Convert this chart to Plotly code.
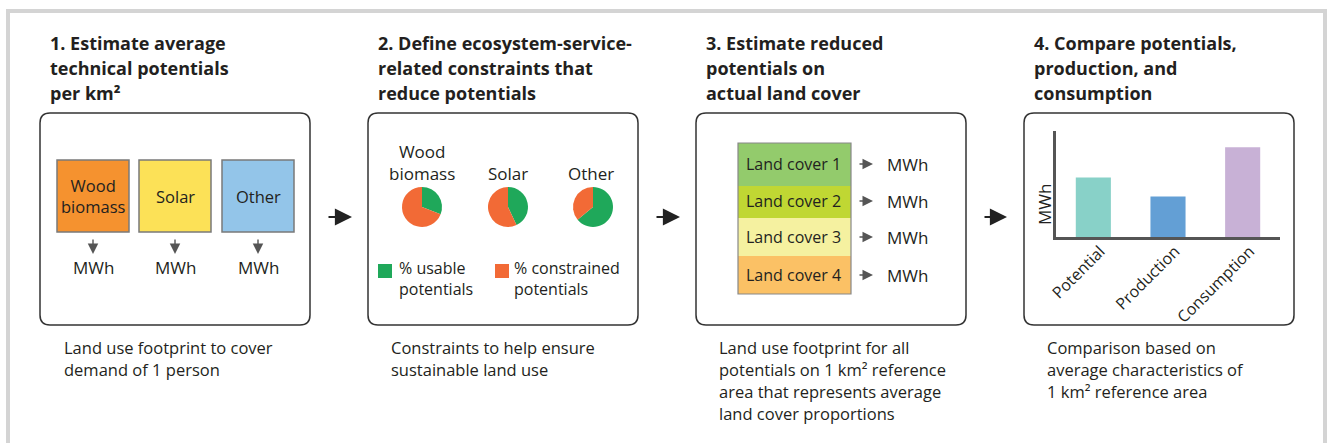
import plotly.graph_objects as go

# ---------------- data ----------------
panel_titles = [
    ["1. Estimate average", "technical potentials", "per km²"],
    ["2. Define ecosystem-service-", "related constraints that", "reduce potentials"],
    ["3. Estimate reduced", "potentials on", "actual land cover"],
    ["4. Compare potentials,", "production, and", "consumption"],
]
panel_notes = [
    ["Land use footprint to cover", "demand of 1 person"],
    ["Constraints to help ensure", "sustainable land use"],
    ["Land use footprint for all", "potentials on 1 km² reference",
     "area that represents average", "land cover proportions"],
    ["Comparison based on", "average characteristics of", "1 km² reference area"],
]
energy_sources = ["Wood<br>biomass", "Solar", "Other"]
source_colors = ["#f5922f", "#fce157", "#93c5e9"]
usable_pct = [31, 43, 64]          # % usable potentials per source
constrained_pct = [100 - v for v in usable_pct]
legend_labels = ["% usable<br>potentials", "% constrained<br>potentials"]
land_covers = ["Land cover 1", "Land cover 2", "Land cover 3", "Land cover 4"]
land_cover_colors = ["#93cb6c", "#c0d733", "#f5f1a0", "#fbc165"]
compare_categories = ["Potential", "Production", "Consumption"]
compare_values = [59, 40, 89]
compare_colors = ["#88d1c8", "#639fd5", "#c8b1d6"]

W, H = 1328, 443
TXT = "#231f20"
FONT = "Open Sans"

fig = go.Figure()
shapes = []
ann = []


def px(x):
    return x / W


def py(y):
    return 1 - y / H


def rrect(x0, y0, x1, y1, r=10):
    return (f"M {x0+r},{y0} L {x1-r},{y0} Q {x1},{y0} {x1},{y0+r} "
            f"L {x1},{y1-r} Q {x1},{y1} {x1-r},{y1} L {x0+r},{y1} "
            f"Q {x0},{y1} {x0},{y1-r} L {x0},{y0+r} Q {x0},{y0} {x0+r},{y0} Z")


def text(x, y, s, size=16, bold=False, anchor="left", color=TXT, align=None, **kw):
    ann.append(dict(x=x, y=y, xref="x", yref="y", text=s, showarrow=False,
                    xanchor=anchor, yanchor="middle",
                    align=align or ("left" if anchor == "left" else "center"),
                    font=dict(family=FONT, size=size, color=color,
                              weight=700 if bold else 400), **kw))


def arrow(x0, y0, x1, y1, color="#222", width=1.6, size=1.4):
    ann.append(dict(x=x1, y=y1, ax=x0, ay=y0, xref="x", yref="y",
                    axref="x", ayref="y", text="", showarrow=True,
                    arrowhead=2, arrowsize=size, arrowwidth=width,
                    arrowcolor=color))


# outer frame
shapes.append(dict(type="rect", xref="x", yref="y", x0=8, y0=11, x1=1325, y1=470,
                   line=dict(color="#d4d4d4", width=4)))

# panel geometry
title_x = [48, 376, 704, 1032]
box_x = [(40, 310), (368, 638), (696, 966), (1024, 1294)]
note_x = [62, 389, 717, 1045]
title_y = [43, 68, 93]
note_y = [347, 369, 391, 413]

for i in range(4):
    for j, line in enumerate(panel_titles[i]):
        text(title_x[i], title_y[j], line, size=18, bold=True)
    x0, x1 = box_x[i]
    shapes.append(dict(type="path", xref="x", yref="y", path=rrect(x0, 113, x1, 325, 10),
                       line=dict(color="#333", width=1.5)))
    for j, line in enumerate(panel_notes[i]):
        text(note_x[i], note_y[j], line, size=16.5)

# arrows between panels
for xa, xb in [(327, 352), (655, 680), (983, 1007)]:
    arrow(xa, 217, xb, 217, width=1.8, size=1.9)

# ---- panel 1: source boxes
sq_x = [57, 139, 222]
for k, name in enumerate(energy_sources):
    shapes.append(dict(type="rect", xref="x", yref="y", x0=sq_x[k], y0=160,
                       x1=sq_x[k] + 72, y1=232, fillcolor=source_colors[k],
                       line=dict(color="#7a7a7a", width=1.5)))
    text(sq_x[k] + 36, 196, name, size=16.5, anchor="center")
    arrow(sq_x[k] + 36, 238, sq_x[k] + 36, 254, color="#555", width=1.4, size=1.5)
    text(sq_x[k] + 36, 267, "MWh", size=17, anchor="center")

# ---- panel 2: pies
pie_cx = [422, 508, 593]
pie_cy, pie_r = 207, 20
for k, name in enumerate(energy_sources):
    fig.add_trace(go.Pie(values=[usable_pct[k], constrained_pct[k]],
                         labels=["% usable potentials", "% constrained potentials"],
                         marker=dict(colors=["#1fa85a", "#f26a36"], line=dict(width=0)),
                         sort=False, direction="clockwise", rotation=0,
                         textinfo="none", hoverinfo="label+percent", showlegend=False,
                         domain=dict(x=[px(pie_cx[k] - pie_r), px(pie_cx[k] + pie_r)],
                                     y=[py(pie_cy + pie_r), py(pie_cy - pie_r)])))
text(422, 162, "Wood<br>biomass", size=17, anchor="center")
text(508, 173, "Solar", size=17, anchor="center")
text(591, 173, "Other", size=17, anchor="center")
shapes.append(dict(type="rect", xref="x", yref="y", x0=378, y0=264, x1=392, y1=278,
                   fillcolor="#1fa85a", line=dict(width=0)))
shapes.append(dict(type="rect", xref="x", yref="y", x0=495, y0=264, x1=509, y1=278,
                   fillcolor="#f26a36", line=dict(width=0)))
text(397, 278, legend_labels[0], size=16)
text(512, 278, legend_labels[1], size=16)

# ---- panel 3: land cover stack
lc_edges = [143, 186, 218, 256, 294]
lc_text_y = [164, 201, 237, 275]
for k, name in enumerate(land_covers):
    shapes.append(dict(type="rect", xref="x", yref="y", x0=738, y0=lc_edges[k],
                       x1=851, y1=lc_edges[k + 1], fillcolor=land_cover_colors[k],
                       line=dict(width=0)))
    text(744, lc_text_y[k], name, size=16)
    arrow(858, lc_text_y[k], 873, lc_text_y[k], color="#555", width=1.4, size=1.5)
    text(885, lc_text_y[k], "MWh", size=17)
shapes.append(dict(type="rect", xref="x", yref="y", x0=738, y0=143, x1=851, y1=294,
                   line=dict(color="#888", width=1.2)))

# ---- panel 4: bar chart
fig.add_trace(go.Bar(x=compare_categories, y=compare_values,
                     marker=dict(color=compare_colors, line=dict(width=0)),
                     width=0.47, xaxis="x2", yaxis="y2", showlegend=False))
text(1044, 205, "MWh", size=17, anchor="center", textangle=-90)

fig.update_layout(
    width=W, height=H, margin=dict(l=0, r=0, t=0, b=0, autoexpand=False),
    paper_bgcolor="white", plot_bgcolor="rgba(0,0,0,0)",
    xaxis=dict(range=[0, W], domain=[0, 1], visible=False, fixedrange=True,
               automargin=False),
    yaxis=dict(range=[H, 0], domain=[0, 1], visible=False, fixedrange=True,
               automargin=False),
    xaxis2=dict(domain=[px(1056), px(1280)], anchor="y2", range=[-0.5, 2.5],
                showline=True, linecolor="#555", linewidth=2.5, ticks="",
                showgrid=False, zeroline=False, tickangle=-45, automargin=False,
                ticklabelshift=7, ticklabelstandoff=-4, fixedrange=True,
                tickfont=dict(family=FONT, size=16, color=TXT)),
    yaxis2=dict(domain=[py(237), py(131)], anchor="x2", range=[0, 105],
                showline=True, linecolor="#555", linewidth=2.5, ticks="",
                showticklabels=False, showgrid=False, zeroline=False,
                automargin=False, fixedrange=True),
    shapes=shapes, annotations=ann,
)

fig.write_html("out.html", config={"displayModeBar": False},
               post_script="document.body.style.margin='0';")
